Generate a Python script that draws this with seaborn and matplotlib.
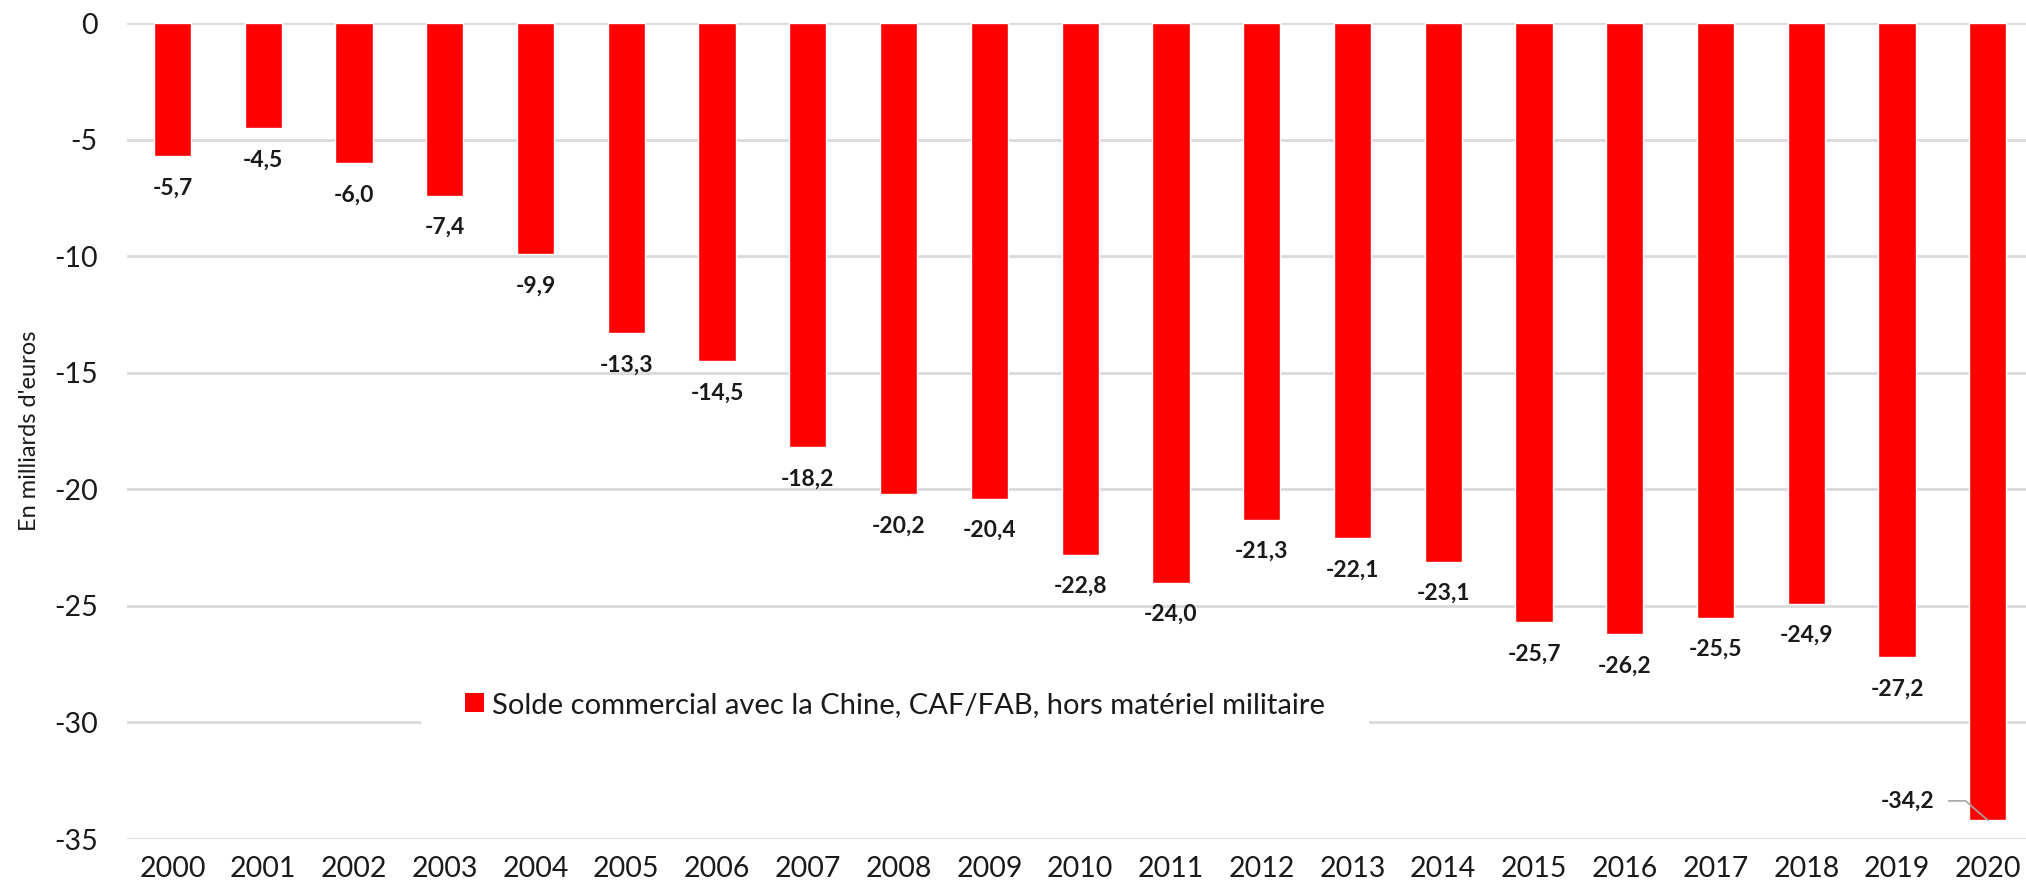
import matplotlib
matplotlib.use("Agg")
import matplotlib.pyplot as plt
from matplotlib.patches import Patch
import seaborn as sns

# === Data ===
years = [str(y) for y in range(2000, 2021)]
solde = [-5.7, -4.5, -6.0, -7.4, -9.9, -13.3, -14.5, -18.2, -20.2, -20.4,
         -22.8, -24.0, -21.3, -22.1, -23.1, -25.7, -26.2, -25.5, -24.9, -27.2,
         -34.2]
serie_label = "Solde commercial avec la Chine, CAF/FAB, hors matériel militaire"
y_ticks = [0, -5, -10, -15, -20, -25, -30, -35]

# === Style ===
sns.set_style("white")
plt.rcParams["font.family"] = ["Lato", "DejaVu Sans"]
plt.rcParams["axes.unicode_minus"] = False
red = "#ff0000"
grid_col = "#d9d9d9"
text_col = "#1a1a1a"

fig = plt.figure(figsize=(20.26, 8.96), dpi=100)
ax = fig.add_axes([127 / 2026, 57 / 896, 1 - 127 / 2026, 816 / 896])

sns.barplot(x=years, y=solde, color=red, saturation=1, width=0.41, ax=ax, zorder=2)

ax.set_ylim(-35, 0)
ax.set_xlim(-0.5, 20.42)
ax.set_yticks(y_ticks)
ax.set_yticklabels([str(t) for t in y_ticks])
ax.yaxis.grid(True, color=grid_col, linewidth=2, zorder=0)
ax.set_axisbelow(True)
for s in ax.spines.values():
    s.set_visible(False)
ax.tick_params(axis="y", length=0, pad=21, labelsize=20.5, labelcolor=text_col)
ax.tick_params(axis="x", length=0, pad=12, labelsize=20.5, labelcolor=text_col)
ax.set_xlabel("")
ax.set_ylabel("En milliards d'euros", fontsize=17, color=text_col)
ax.yaxis.set_label_coords(-0.046, 0.5)

# === Data labels ===
for i, v in enumerate(solde):
    txt = f"{v:.1f}".replace(".", ",")
    if i == len(solde) - 1:
        ax.annotate(txt, xy=(i, v), xytext=(-58, 14), textcoords="offset points",
                    ha="center", va="center", fontsize=16.5, fontweight="bold",
                    color=text_col,
                    arrowprops=dict(arrowstyle="-", color="#a6a6a6", lw=1.2,
                                    shrinkA=8, shrinkB=0,
                                    connectionstyle="angle,angleA=0,angleB=-41,rad=0"))
    else:
        ax.annotate(txt, xy=(i, v), xytext=(0, -23), textcoords="offset points",
                    ha="center", va="center", fontsize=16.5, fontweight="bold",
                    color=text_col)

# === Legend ===
handle = Patch(facecolor=red, edgecolor="none", label=serie_label)
leg = fig.legend(handles=[handle], loc="center left",
                 bbox_to_anchor=(421 / 2026, 191 / 896),
                 fontsize=21, frameon=True, facecolor="white", edgecolor="none",
                 fancybox=False, framealpha=1, borderpad=1.5, borderaxespad=0,
                 handlelength=0.65, handleheight=0.65, handletextpad=0.3)
for t in leg.get_texts():
    t.set_color(text_col)

fig.savefig("out.png", dpi=100)
